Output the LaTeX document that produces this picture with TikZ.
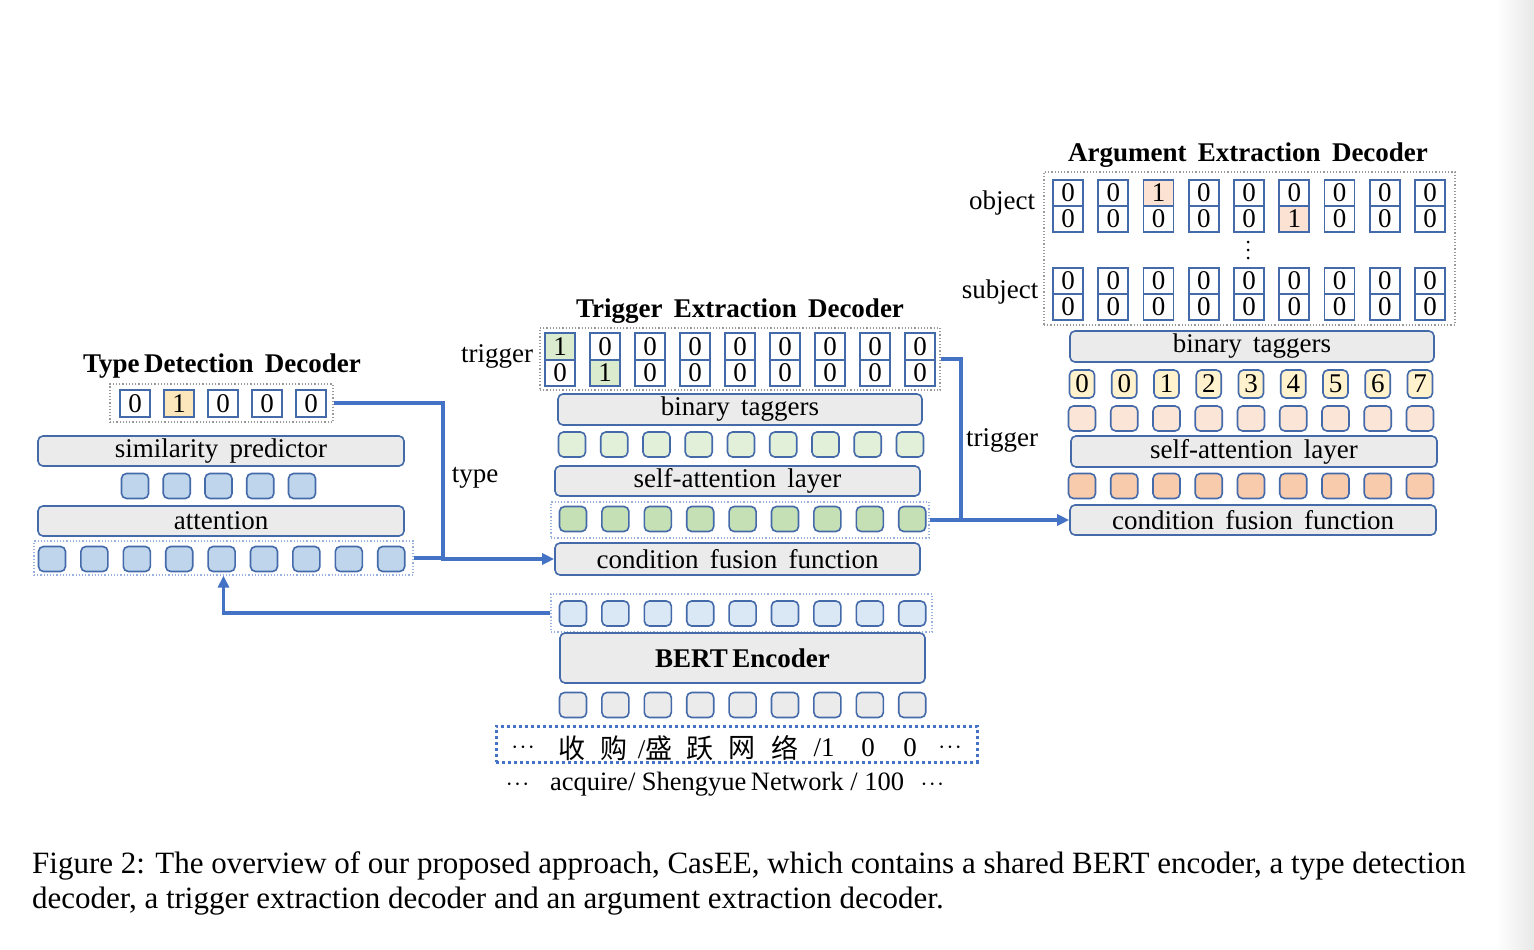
\documentclass[tikz,border=0pt]{standalone}
\usepackage{fontspec}
\setmainfont{Liberation Serif}
\newfontfamily\cjk{Noto Sans CJK SC}
\usetikzlibrary{arrows.meta}

\definecolor{edge}{RGB}{68,106,170}
\definecolor{link}{RGB}{68,114,196}
\definecolor{layerbg}{RGB}{235,235,235}
\definecolor{bluesq}{RGB}{190,213,236}
\definecolor{paleblue}{RGB}{218,231,245}
\definecolor{palegreen}{RGB}{226,240,217}
\definecolor{midgreen}{RGB}{197,224,180}
\definecolor{palepeach}{RGB}{251,229,214}
\definecolor{midpeach}{RGB}{248,203,173}
\definecolor{paleyellow}{RGB}{255,242,204}
\definecolor{typehi}{RGB}{252,231,188}
\definecolor{trighi}{RGB}{218,236,205}
\definecolor{arghi}{RGB}{251,226,210}

\newcommand\tokdots{$\cdot\!\cdot\!\cdot$}

\tikzset{
  layer/.style={draw=edge, line width=1.6, fill=layerbg, rounded corners=5, inner sep=0,
    font=\fontsize{27}{30}\selectfont},
  sq/.style={draw=edge, line width=1.6, rounded corners=5, minimum width=27, minimum height=25, inner sep=0},
  cell/.style={draw=edge, line width=1.8, fill=white, minimum width=30, minimum height=26.5, inner sep=0,
    font=\fontsize{27}{27}\selectfont},
  grp/.style={draw=gray!80, dotted, line width=1.2, inner sep=0},
  rowgrp/.style={draw=link!55, dotted, line width=1.2, inner sep=0},
  conn/.style={draw=link, line width=3.2},
  tip/.style={-{Triangle[length=12,width=11]}},
  title/.style={font=\fontsize{27}{30}\bfseries\selectfont},
  lbl/.style={font=\fontsize{27}{30}\selectfont}
}

\begin{document}
\begin{tikzpicture}[x=1pt,y=-1pt]
  \useasboundingbox (0,0) rectangle (1534,950);
  \fill[white] (0,0) rectangle (1534,950);
  \shade[left color=white, right color=gray!18] (1496,0) rectangle (1534,950);

  % type detection decoder
  \node[title] (tddtitle) at (222,366) {Type\,Detection\, Decoder};
  \node[grp, minimum width=223, minimum height=38] (tddout) at (221.5,403) {};
  \foreach \v [count=\i] in {0,1,0,0,0}{
    \ifnum\v=1 \def\fc{typehi}\else\def\fc{white}\fi
    \node[cell, fill=\fc, minimum height=27] (td\i) at ({135+44*(\i-1)},403.5) {\v};
  }
  \node[layer, minimum width=366, minimum height=30] (simpred) at (221,451) {similarity\, predictor};
  \foreach \i in {1,...,5}
    \node[sq, fill=bluesq] (tdm\i) at ({135+41.75*(\i-1)},486) {};
  \node[layer, minimum width=366, minimum height=30] (attn) at (221,521) {attention};
  \node[rowgrp, minimum width=379, minimum height=34] (tddrow) at (223.5,558) {};
  \foreach \i in {1,...,9}
    \node[sq, fill=bluesq] (tdr\i) at ({52+42.4*(\i-1)},559) {};

  % trigger extraction decoder
  \node[title] (tedtitle) at (740,311) {Trigger\, Extraction\, Decoder};
  \node[lbl] (triglbl) at (497,356) {trigger};
  \node[grp, minimum width=400, minimum height=62] (trigout) at (740,359) {};
  \foreach \v [count=\i] in {1,0,0,0,0,0,0,0,0}{
    \ifnum\v=1 \def\fc{trighi}\else\def\fc{white}\fi
    \node[cell, fill=\fc] (tga\i) at ({560+45*(\i-1)},346.5) {\v};
  }
  \foreach \v [count=\i] in {0,1,0,0,0,0,0,0,0}{
    \ifnum\v=1 \def\fc{trighi}\else\def\fc{white}\fi
    \node[cell, fill=\fc] (tgb\i) at ({560+45*(\i-1)},373) {\v};
  }
  \node[layer, minimum width=364, minimum height=31] (tbin) at (740,409.5) {binary\, taggers};
  \foreach \i in {1,...,9}
    \node[sq, fill=palegreen] (tgm\i) at ({572+42.25*(\i-1)},444.5) {};
  \node[layer, minimum width=365, minimum height=30] (tself) at (737.5,481) {self-attention\, layer};
  \node[rowgrp, minimum width=378, minimum height=36] (trigrow) at (740,520) {};
  \foreach \i in {1,...,9}
    \node[sq, fill=midgreen] (tgr\i) at ({573+42.4*(\i-1)},519) {};
  \node[layer, minimum width=365, minimum height=32] (tcff) at (737.5,559) {condition\, fusion\, function};

  % shared encoder
  \node[rowgrp, minimum width=381, minimum height=38] (bertrow) at (741.5,613) {};
  \foreach \i in {1,...,9}
    \node[sq, fill=paleblue] (bt\i) at ({573+42.4*(\i-1)},613.5) {};
  \node[layer, minimum width=365, minimum height=50, font=\fontsize{27}{30}\bfseries\selectfont] (bert) at (742.5,658) {BERT\,Encoder};
  \foreach \i in {1,...,9}
    \node[sq, fill=layerbg] (bb\i) at ({573+42.4*(\i-1)},705) {};
  \node[draw=link, line width=3, dash pattern=on 2.6 off 3.4, minimum width=481, minimum height=36, inner sep=0] (input) at (736.5,744) {};
  \foreach \t/\x [count=\i] in {{\tokdots}/523, {\cjk 收}/572, {\cjk 购}/614, {/\cjk 盛}/655, {\cjk 跃}/700,
      {\cjk 网}/742, {\cjk 络}/785, {/1}/824, 0/868, 0/910, {\tokdots}/950}
    \node[lbl, inner sep=0] (tok\i) at (\x,748) {\t};
  \node[lbl, font=\fontsize{26.5}{30}\selectfont] (gloss) at (725,784) {\tokdots\hspace{14pt} acquire/ Shengyue\,Network / 100\hspace{10pt} \tokdots};

  % argument extraction decoder
  \node[title] (aedtitle) at (1248,155) {Argument\, Extraction\, Decoder};
  \node[lbl] (objlbl) at (1002,203) {object};
  \node[lbl] (subjlbl) at (1000,292) {subject};
  \node[grp, minimum width=411, minimum height=153] (argout) at (1249.5,248.5) {};
  \foreach \v [count=\i] in {0,0,1,0,0,0,0,0,0}{
    \ifnum\v=1 \def\fc{arghi}\else\def\fc{white}\fi
    \node[cell, fill=\fc] (oa\i) at ({1068+45.25*(\i-1)},193) {\v};
  }
  \foreach \v [count=\i] in {0,0,0,0,0,1,0,0,0}{
    \ifnum\v=1 \def\fc{arghi}\else\def\fc{white}\fi
    \node[cell, fill=\fc] (ob\i) at ({1068+45.25*(\i-1)},219) {\v};
  }
  \foreach \y in {242,250,258}
    \fill (1248,\y) circle (1.5);
  \foreach \i in {1,...,9}{
    \node[cell] (sa\i) at ({1068+45.25*(\i-1)},281) {0};
    \node[cell] (sb\i) at ({1068+45.25*(\i-1)},307) {0};
  }
  \node[layer, minimum width=364, minimum height=31] (abin) at (1252,346.5) {binary\, taggers};
  \foreach \v [count=\i] in {0,0,1,2,3,4,5,6,7}
    \node[sq, fill=paleyellow, minimum width=25, minimum height=28, font=\fontsize{27}{27}\selectfont] (an\i) at ({1082+42.25*(\i-1)},384) {\v};
  \foreach \i in {1,...,9}
    \node[sq, fill=palepeach] (am\i) at ({1082+42.25*(\i-1)},418.5) {};
  \node[layer, minimum width=366, minimum height=31] (aself) at (1254,451.5) {self-attention\, layer};
  \foreach \i in {1,...,9}
    \node[sq, fill=midpeach] (ar\i) at ({1082+42.25*(\i-1)},486) {};
  \node[layer, minimum width=366, minimum height=30] (acff) at (1253,520) {condition\, fusion\, function};

  % connectors
  \coordinate (typeturn) at (443,403);
  \draw[conn, tip] (tddout.east) -- (typeturn) |- (tcff.west);
  \draw[conn] (tddrow.east) -- (tddrow.east -| typeturn);
  \node[lbl] (typelbl) at (475,478) {type};
  \draw[conn, tip] (bertrow.west) -| (tddrow.south);
  \coordinate (trigturn) at (961,359);
  \draw[conn, tip] (trigout.east) -- (trigturn) |- (acff.west);
  \draw[conn] (trigrow.east) -- (trigrow.east -| trigturn);
  \node[lbl] (trigarg) at (1002,440) {trigger};

  % caption
  \node[anchor=base west, inner sep=0, font=\fontsize{31}{36}\selectfont] (cap1) at (32,873)
    {Figure 2: The overview of our proposed approach, CasEE, which contains a shared BERT encoder, a type detection};
  \node[anchor=base west, inner sep=0, font=\fontsize{31}{36}\selectfont] (cap2) at (32,908)
    {decoder, a trigger extraction decoder and an argument extraction decoder.};
\end{tikzpicture}
\end{document}
